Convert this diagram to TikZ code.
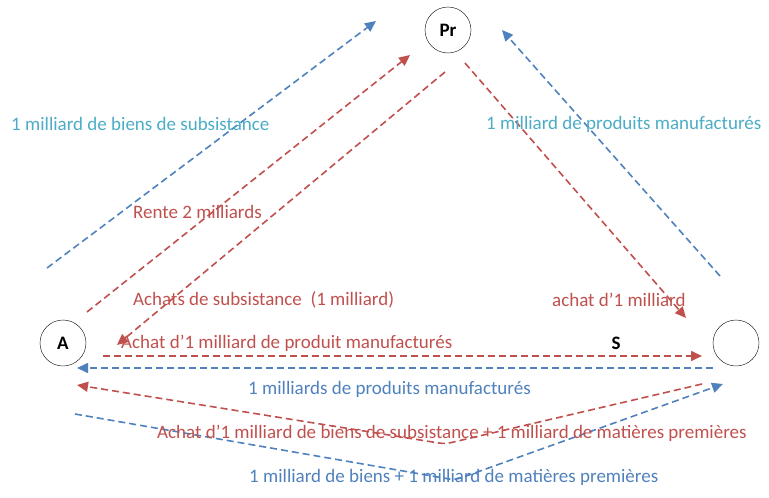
\documentclass[tikz,border=0pt]{standalone}
\usepackage{fontspec}
\setmainfont{Carlito}
\usetikzlibrary{arrows.meta}
\definecolor{flowred}{HTML}{C0504D}
\definecolor{flowblue}{HTML}{4F81BD}
\definecolor{textcyan}{HTML}{4BACC6}
\tikzset{
  flow/.style={line width=1.6pt, dash pattern=on 7pt off 4pt,
    -{Triangle[length=11pt,width=10pt]}},
  txt/.style={anchor=west, inner sep=0pt, font=\fontsize{19}{22}\selectfont}
}

\begin{document}
\begin{tikzpicture}[x=1pt, y=-1pt]
\useasboundingbox (0,0) rectangle (769,498);
\begin{scope}[every node/.style={circle, draw, thin, minimum size=46pt, inner sep=0pt, font=\bfseries\fontsize{19}{22}\selectfont}]
   \node (Pr) at (448,30) {Pr};
   \node (A) at (63,343) {A};
   \node (S) at (736,343) {};
 \end{scope}
 \node[font=\bfseries\fontsize{19}{22}\selectfont] (Slabel) at (616,343) {S};
 % ends of the flows
 \coordinate (b1s) at (47,268);   \coordinate (b1e) at (376,21);
 \coordinate (r1s) at (87,312);   \coordinate (r1e) at (410,55);
 \coordinate (r2s) at (445,72);   \coordinate (r2e) at (117,345);
 \coordinate (r3s) at (465,63);   \coordinate (r3e) at (686,318);
 \coordinate (b2s) at (720,276);  \coordinate (b2e) at (502,30);
 \coordinate (r4s) at (103,356);  \coordinate (r4e) at (702,356);
 \coordinate (b3s) at (713,368);  \coordinate (b3e) at (77,368);
 \coordinate (r5s) at (702,384);  \coordinate (r5m) at (445,444);  \coordinate (r5e) at (77,385);
 \coordinate (b4s) at (75,414);   \coordinate (b4m) at (455,480);  \coordinate (b4e) at (723,384);
 \draw[flow, flowblue] (b1s) -- (b1e);
 \draw[flow, flowred] (r1s) -- (r1e);
 \draw[flow, flowred] (r2s) -- (r2e);
 \draw[flow, flowred] (r3s) -- (r3e);
 \draw[flow, flowblue] (b2s) -- (b2e);
 \draw[flow, flowred] (r4s) -- (r4e);
 \draw[flow, flowblue] (b3s) -- (b3e);
 \draw[flow, flowred, rounded corners=6pt] (r5s) -- (r5m) -- (r5e);
 \draw[flow, flowblue, rounded corners=6pt] (b4s) -- (b4m) -- (b4e);
 % labels
 \node[txt, textcyan] (subs) at (11,124) {1 milliard de biens de subsistance};
 \node[txt, flowred] (rente) at (133,212) {Rente 2 milliards};
 \node[txt, textcyan] (manuf) at (486,124) {1 milliard de produits manufacturés};
 \node[txt, flowred] (achsubs) at (133,300) {Achats de subsistance\ \ (1 milliard)};
 \node[txt, flowred] (achS) at (552,300) {achat d’1 milliard};
 \node[txt, flowred] (achmanuf) at (121,343) {Achat d’1 milliard de produit manufacturés};
 \node[txt, flowblue] (prodmanuf) at (248,389) {1 milliards de produits manufacturés};
 \node[txt, flowred] (achmat) at (157,433) {Achat d’1 milliard de biens de subsistance + 1 milliard de matières premières};
 \node[txt, flowblue] (biensmat) at (249,477) {1 milliard de biens + 1 milliard de matières premières};
\end{tikzpicture}
\end{document}
